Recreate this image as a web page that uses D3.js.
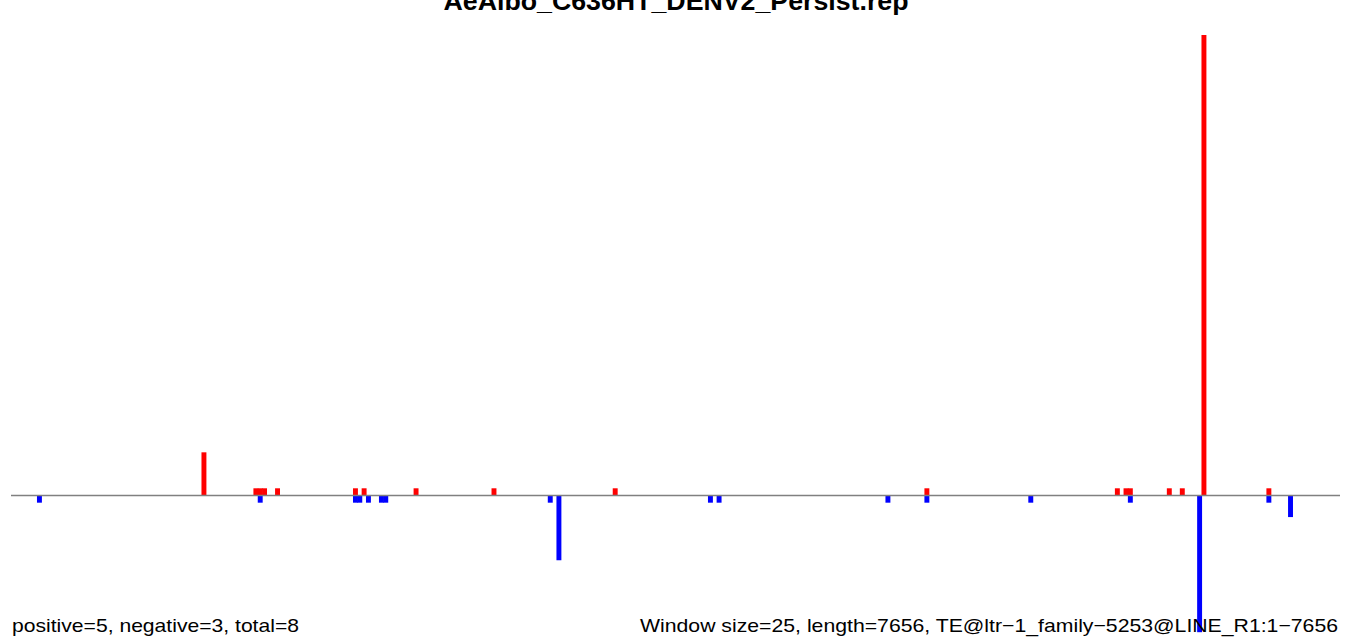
<!DOCTYPE html>
<html>
<head>
<meta charset="utf-8">
<script src="https://cdn.jsdelivr.net/npm/d3@7"></script>
<style>
  html, body { margin: 0; padding: 0; background: #fff; }
  svg { display: block; }
  text { font-family: "Liberation Sans", Arial, Helvetica, sans-serif; }
</style>
</head>
<body>
<svg id="chart" width="1352" height="644"></svg>
<script>
// ---- data ----
const title = "AeAlbo_C636HT_DENV2_Persist.rep";
const windowSize = 25;
const seqLength = 7656;
const nWindows = Math.ceil(seqLength / windowSize); // 307

// window indices (0-based) and counts for positive (sense) hits
const posWindows = [44, 56, 57, 58, 61, 79, 81, 93, 111, 139, 211, 255, 257, 258, 267, 270, 275, 290];
const posCounts  = [ 6,  1,  1,  1,  1,  1,  1,  1,   1,   1,   1,   1,   1,   1,   1,   1,  64,   1];
// window indices and counts for negative (antisense) hits
const negWindows = [6, 57, 79, 80, 82, 85, 86, 124, 126, 161, 163, 202, 211, 235, 258, 274, 290, 295];
const negCounts  = [1,  1,  1,  1,  1,  1,  1,   1,   9,   1,   1,   1,   1,   1,   1,  19,   1,   3];

const footerLeft = "positive=5, negative=3, total=8";
const footerRight = "Window size=25, length=7656, TE@ltr\u22121_family\u22125253@LINE_R1:1\u22127656";

// ---- drawing ----
const svg = d3.select("#chart");

const x = d3.scaleLinear().domain([0, nWindows]).range([11, 1340]);
const y = d3.scaleLinear().domain([-19, 64]).range([632.2, 35]);
const bw = x(1) - x(0);
const barW = bw + 0.6;

const posData = posWindows.map((w, i) => ({ w, v: posCounts[i] }));
const negData = negWindows.map((w, i) => ({ w, v: negCounts[i] }));

svg.append("g").selectAll("rect").data(posData).join("rect")
  .attr("x", d => x(d.w))
  .attr("width", barW)
  .attr("y", d => y(d.v))
  .attr("height", d => y(0) - y(d.v))
  .attr("fill", "#ff0000");

svg.append("g").selectAll("rect").data(negData).join("rect")
  .attr("x", d => x(d.w))
  .attr("width", barW)
  .attr("y", y(0))
  .attr("height", d => y(-d.v) - y(0))
  .attr("fill", "#0000ff");

// baseline
svg.append("line")
  .attr("x1", x(0)).attr("x2", x(nWindows))
  .attr("y1", y(0)).attr("y2", y(0))
  .attr("stroke", "#808080")
  .attr("stroke-width", 1.3);

// title
svg.append("text")
  .attr("x", 676).attr("y", 9.5)
  .attr("text-anchor", "middle")
  .attr("font-weight", "bold")
  .attr("font-size", 26)
  .attr("textLength", 465)
  .attr("lengthAdjust", "spacingAndGlyphs")
  .attr("fill", "#000")
  .text(title);

// footers
svg.append("text")
  .attr("x", 12).attr("y", 632)
  .attr("font-size", 19)
  .attr("textLength", 287)
  .attr("lengthAdjust", "spacingAndGlyphs")
  .attr("fill", "#000")
  .text(footerLeft);

svg.append("text")
  .attr("x", 640).attr("y", 632)
  .attr("font-size", 19)
  .attr("textLength", 698)
  .attr("lengthAdjust", "spacingAndGlyphs")
  .attr("fill", "#000")
  .text(footerRight);
</script>
</body>
</html>
